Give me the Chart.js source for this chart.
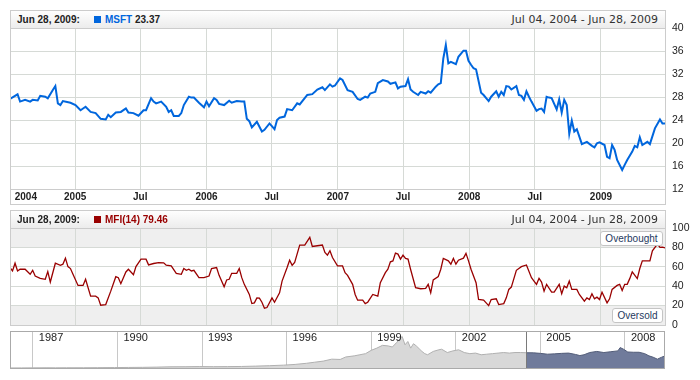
<!DOCTYPE html>
<html><head><meta charset="utf-8">
<script src="https://cdn.jsdelivr.net/npm/chart.js@4.4.0/dist/chart.umd.min.js"></script>
<style>
html,body{margin:0;padding:0;background:#fff;}
body{width:700px;height:380px;position:relative;overflow:hidden;font-family:"Liberation Sans",Arial,sans-serif;}
canvas{position:absolute;left:0;}
.frame{position:absolute;left:10px;width:656px;box-sizing:border-box;border:1px solid #cccccc;pointer-events:none;}
.hdr{position:absolute;left:10px;width:656px;height:19px;box-sizing:border-box;border:1px solid #cccccc;background:linear-gradient(#fefefe,#ececec);}
.hdr span{position:absolute;top:0;line-height:17px;white-space:nowrap;}
.lbl{font-size:10px;font-weight:bold;color:#222;}
.range{right:7px;font-family:"DejaVu Sans",Verdana,sans-serif;font-size:11px;color:#333;}
.hdr .sq{top:5px;width:7px;height:7px;}
.tag{position:absolute;box-sizing:border-box;border:1px solid #c4c4c4;border-radius:3px;background:#fff;font-size:10px;color:#1f3a60;text-align:center;line-height:13px;height:15px;}
</style></head><body>
<canvas id="c1" width="700" height="210" style="top:0;width:700px;height:210px"></canvas>
<canvas id="c2" width="700" height="140" style="top:200px;width:700px;height:140px"></canvas>
<canvas id="c3" width="700" height="60" style="top:320px;width:700px;height:60px"></canvas>

<div class="frame" style="top:10px;height:195px"></div>
<div class="hdr" style="top:10px">
  <span class="lbl date" style="left:6px"></span>
  <span class="sq" style="left:83px;background:#0066dd"></span>
  <span class="lbl" style="left:94px"><span style="position:static;color:#0066dd">MSFT</span> <span id="v1" style="position:static"></span></span>
  <span class="range"></span>
</div>
<div class="frame" style="top:210px;height:116px"></div>
<div class="hdr" style="top:210px">
  <span class="lbl date" style="left:6px"></span>
  <span class="sq" style="left:83px;background:#990000"></span>
  <span class="lbl" style="left:94px;color:#990000">MFI(14) <span id="v2" style="position:static"></span></span>
  <span class="range"></span>
</div>
<div class="tag" style="left:600px;top:231px;width:63px">Overbought</div>
<div class="tag" style="left:612px;top:308px;width:51px">Oversold</div>

<script>
// ---- data (weekly, week index counted from Jul 04, 2004) ----
const msftWeek = [0,3,4,6,8,9,11,12,14,15,17,18,19,20,21,24,26,28,30,32,34,36,38,39,40,42,44,46,47,49,51,53,54,56,57,58,60,62,63,64,65,67,68,69,71,72,73,75,77,78,79,81,82,83,85,87,88,90,92,93,94,95,96,98,100,101,103,105,106,107,109,110,112,114,115,118,120,122,124,125,127,128,129,131,132,134,136,138,139,141,142,143,145,146,148,150,151,153,154,155,157,158,159,160,162,163,165,166,167,169,170,171,172,173,174,175,177,178,180,181,182,183,184,185,187,188,190,191,193,194,195,196,197,198,199,201,202,203,204,205,206,207,209,210,211,212,213,214,215,217,218,219,220,221,222,223,224,225,226,227,229,231,232,233,234,236,237,238,239,240,241,243,244,245,247,248,249,250,251,253,254,256,258,259,260];
const msftClose = [27.65,28.47,27.2,27.5,27.2,27.5,27.4,28.2,28.05,27.77,29.2,29.9,26.9,26.6,27.3,27.0,26.6,25.7,26.3,25.4,25.2,24.2,24.1,24.9,24.5,25.3,25.4,26.0,25.3,25.2,24.75,25.7,25.7,27.8,27.2,26.9,27.2,26.3,25.4,25.7,24.7,24.7,25.2,26.6,28.05,27.9,27.9,27.0,26.2,27.2,26.4,27.8,27.5,26.8,26.6,27.35,27.0,27.3,27.2,27.2,24.2,23.8,22.7,23.7,22.0,22.3,23.4,22.4,24.0,24.4,24.6,25.9,25.7,26.9,26.7,28.35,28.5,29.3,29.7,29.2,30.2,29.8,30.0,31.25,30.95,29.2,28.9,27.65,27.5,28.05,27.9,28.6,28.9,30.4,30.95,30.7,30.3,30.55,29.5,29.8,29.9,31.1,29.3,28.9,28.35,28.9,28.6,29.0,28.75,29.8,30.2,30.4,34.7,37.05,33.85,34.1,33.7,35.0,36.05,36.05,34.3,33.6,33.0,32.8,28.75,28.35,27.3,28.05,29.0,28.05,28.9,28.35,29.9,29.8,29.3,29.9,28.35,28.2,27.5,29.0,28.05,27.2,25.6,25.9,26.0,25.4,28.05,27.9,27.8,25.85,27.6,25.3,27.5,26.6,21.6,23.9,22.0,22.4,21.1,19.8,20.2,19.5,19.25,19.95,20.1,19.65,17.6,17.35,19.65,18.8,17.05,15.3,16.2,17.05,18.5,19.5,19.25,21.0,19.65,20.2,19.8,22.55,24.1,23.4,23.37];

const mfiWeek = [0,1,2,3,4,6,8,9,10,12,14,15,16,18,20,21,22,23,24,25,27,29,30,32,34,35,36,38,40,42,43,44,46,47,49,50,52,54,55,57,59,61,62,64,66,68,69,70,71,72,73,75,77,79,80,82,83,85,86,87,88,90,91,92,93,95,96,97,98,99,100,101,102,104,105,107,108,110,111,112,113,115,117,119,120,122,124,125,126,127,128,130,132,133,134,136,137,138,140,141,142,144,146,147,149,150,151,152,153,154,155,156,157,158,159,161,163,165,166,167,168,170,171,172,174,175,176,177,178,180,181,182,183,185,186,188,190,191,193,194,196,197,198,199,201,203,205,207,208,209,210,211,212,213,215,216,218,219,220,221,222,223,225,226,228,229,230,231,232,233,234,235,237,238,239,241,242,243,244,245,246,247,249,250,251,254,255,257,258,259,260];
const mfiValue = [59.2,55.7,63.7,55.7,57.5,57.5,52.3,56.4,50.5,48.1,47.1,55.0,44.3,63.7,61.6,62.7,68.9,60.2,58.2,52.3,40.8,40.8,47.1,29.7,29.7,28.0,20.4,21.1,34.9,49.8,48.8,42.6,54.7,57.5,51.9,60.2,67.9,67.9,62.0,63.4,64.4,64.1,61.6,60.9,53.3,52.3,58.2,56.4,57.5,55.7,56.4,48.8,48.8,50.5,58.2,59.2,51.2,39.4,46.4,47.1,53.3,53.3,58.2,48.8,41.9,31.5,22.1,22.8,28.0,27.7,23.5,17.3,18.0,28.0,23.5,33.2,45.3,59.2,66.8,61.6,64.4,82.4,82.4,90.4,81.0,81.7,82.4,74.8,72.0,76.5,69.6,60.9,60.9,54.0,51.2,41.9,31.5,25.6,25.6,22.1,23.5,31.5,29.7,43.6,54.0,57.5,65.1,66.1,74.1,73.1,67.9,72.0,68.6,67.9,57.5,38.4,37.4,37.7,41.9,33.2,46.4,50.0,57.5,68.6,66.1,62.7,68.6,62.7,66.8,68.9,73.8,66.1,57.5,43.6,26.3,25.6,20.0,26.3,27.0,21.1,22.1,28.0,36.7,39.1,56.4,60.2,61.9,48.8,45.3,41.9,48.1,44.3,34.9,41.9,33.9,33.9,41.9,32.2,40.1,38.4,45.3,36.7,36.7,31.5,24.6,28.0,26.3,32.2,27.0,28.7,26.3,33.9,22.8,27.0,36.7,40.8,41.9,35.6,41.9,41.9,47.8,54.7,47.8,58.2,66.1,66.1,76.5,83.5,80.0,80.2,79.46];

// x axis ticks (days since Jul 04, 2004)
const xTickDays = [44,181,362,546,727,911,1092,1276,1458,1642];
const xTickLabels = ['2004','2005','Jul','2006','Jul','2007','Jul','2008','Jul','2009'];
const priceTicks = [12,16,20,24,28,32,36,40];
const mfiTicks = [0,20,40,60,80,100];
const mfiZones = {overbought:80, oversold:20};

// long history for the scroller (year, close)
const historyYear = [1986.2,1986.6,1987.0,1987.5,1987.8,1988.2,1988.8,1989.3,1989.9,1990.4,1990.9,1991.4,1991.9,1992.4,1992.9,1993.4,1993.9,1994.4,1994.9,1995.4,1995.9,1996.3,1996.7,1997.0,1997.3,1997.6,1997.9,1998.1,1998.4,1998.6,1998.8,1999.0,1999.2,1999.4,1999.6,1999.75,1999.9,2000.0,2000.1,2000.2,2000.3,2000.4,2000.5,2000.6,2000.7,2000.8,2000.9,2001.0,2001.2,2001.4,2001.5,2001.7,2001.9,2002.1,2002.3,2002.5,2002.7,2002.9,2003.1,2003.3,2003.5,2003.7,2003.9,2004.1,2004.3,2004.505,2004.75,2005.0,2005.25,2005.5,2005.75,2006.0,2006.25,2006.4,2006.55,2006.75,2007.0,2007.25,2007.5,2007.75,2007.83,2007.95,2008.1,2008.3,2008.5,2008.7,2008.85,2009.0,2009.15,2009.3,2009.49];
const historyClose = [0.1,0.15,0.25,0.4,0.3,0.4,0.45,0.6,0.8,1.0,1.2,1.6,2.2,2.3,2.6,2.4,2.5,2.8,3.4,4.2,5.2,6.5,8.5,10.5,12.5,16,15.5,20,22,24,26,32,36,41,40,38,46,52,57,42,48,36,44,40,35,30,26,24,30,33,34,28,31,33,28,26,27,24,25,26,27,28,27,28,28,27.6,27.5,26.5,25,25.6,26.5,27,24.5,22.5,24,28,30,28,29.5,31,37,34,29,28.5,28.5,26,22,19.5,16,19.5,23.4];
const scrollerTicks = [1987,1990,1993,1996,1999,2002,2005,2008];
const selectionStart = 2004.505;

const GRID = '#d6dad6';
Chart.defaults.font.family = '"Liberation Sans", Arial, sans-serif';
Chart.defaults.color = '#222';

// header texts from data
const MONTHS=['Jan','Feb','Mar','Apr','May','Jun','Jul','Aug','Sep','Oct','Nov','Dec'];
const start = Date.UTC(2004,6,4);
const dayMs = 86400000;
function fmt(t){const d=new Date(t);return MONTHS[d.getUTCMonth()]+' '+String(d.getUTCDate()).padStart(2,'0')+', '+d.getUTCFullYear();}
const lastWeek = msftWeek[msftWeek.length-1];
const endT = start + lastWeek*7*dayMs;
document.querySelectorAll('.date').forEach(e=>e.textContent=fmt(endT)+':');
document.querySelectorAll('.range').forEach(e=>e.textContent=fmt(start)+' - '+fmt(endT));
document.getElementById('v1').textContent = msftClose[msftClose.length-1].toFixed(2);
document.getElementById('v2').textContent = mfiValue[mfiValue.length-1].toFixed(2);

const xMax = lastWeek*7;
const common = {responsive:false, animation:false, events:[],
  plugins:{legend:{display:false}, tooltip:{enabled:false}}};

// ---- price chart ----
new Chart(document.getElementById('c1'), {
  type:'line',
  data:{datasets:[{data: msftWeek.map((w,i)=>({x:w*7, y:msftClose[i]})),
    borderColor:'#0066dd', borderWidth:2, pointRadius:0, tension:0, fill:false}]},
  options:Object.assign({}, common, {
    layout:{padding:{left:10, top:28, right:0, bottom:6}},
    scales:{
      x:{type:'linear', min:0, max:xMax,
        afterBuildTicks:a=>{a.ticks = xTickDays.map(v=>({value:v}));},
        afterFit:a=>{a.height=15;},
        grid:{color:c=> c.index===0 ? 'rgba(0,0,0,0)' : GRID, drawTicks:false},
        border:{display:true, color:'#cccccc'},
        ticks:{autoSkip:false, maxRotation:0, padding:2, color:'#222',
          font:{size:10, weight:'bold'}, callback:(v,i)=>xTickLabels[i]}},
      y:{position:'right', min:priceTicks[0], max:priceTicks[priceTicks.length-1],
        afterBuildTicks:a=>{a.ticks = priceTicks.map(v=>({value:v}));},
        afterFit:a=>{a.width=35;},
        grid:{color:GRID, drawTicks:false}, border:{display:false},
        ticks:{padding:7, font:{size:10.5}, color:'#222'}}
    }})
});

// ---- MFI chart ----
const bands = {id:'bands', beforeDraw(chart){
  const {ctx, chartArea:a, scales:{y}} = chart;
  ctx.save(); ctx.fillStyle='#efefef';
  const top=y.getPixelForValue(y.max), ob=y.getPixelForValue(mfiZones.overbought),
        os=y.getPixelForValue(mfiZones.oversold), bot=y.getPixelForValue(y.min);
  ctx.fillRect(a.left, top, a.right-a.left, ob-top);
  ctx.fillRect(a.left, os, a.right-a.left, bot-os);
  ctx.restore();
}};
new Chart(document.getElementById('c2'), {
  type:'line',
  data:{datasets:[{data: mfiWeek.map((w,i)=>({x:w*7, y:mfiValue[i]})),
    borderColor:'#990000', borderWidth:1.3, pointRadius:0, tension:0, fill:false}]},
  options:Object.assign({}, common, {
    layout:{padding:{left:10, top:28, right:0, bottom:15}},
    scales:{
      x:{type:'linear', min:0, max:xMax,
        afterBuildTicks:a=>{a.ticks = xTickDays.slice(1).map(v=>({value:v}));},
        afterFit:a=>{a.height=0;},
        grid:{color:GRID, drawTicks:false}, border:{display:false},
        ticks:{display:false}},
      y:{position:'right', min:mfiTicks[0], max:mfiTicks[mfiTicks.length-1],
        afterBuildTicks:a=>{a.ticks = mfiTicks.map(v=>({value:v}));},
        afterFit:a=>{a.width=35;},
        grid:{color:GRID, drawTicks:false}, border:{display:false},
        ticks:{padding:7, font:{size:10.5}, color:'#222'}}
    }}),
  plugins:[bands]
});

// ---- scroller ----
const histPts = historyYear.map((x,i)=>({x, y:historyClose[i]}));
const scrollLabels = {id:'scrollLabels', afterDatasetsDraw(chart){
  const {ctx, chartArea:a, scales:{x}} = chart;
  ctx.save();
  // selection edge
  const sx = Math.round(x.getPixelForValue(selectionStart))+0.5;
  ctx.strokeStyle='#7a7a7a'; ctx.lineWidth=1;
  ctx.beginPath(); ctx.moveTo(sx,a.top); ctx.lineTo(sx,a.bottom); ctx.stroke();
  // frame
  ctx.strokeStyle='#aaaaaa';
  ctx.strokeRect(a.left+0.5, a.top+0.5, a.right-a.left-1, a.bottom-a.top);
  ctx.fillStyle='#222'; ctx.font='11px "Liberation Sans", Arial, sans-serif';
  ctx.textBaseline='middle'; ctx.textAlign='left';
  scrollerTicks.forEach(yr=>{ ctx.fillText(String(yr), x.getPixelForValue(yr)+6, a.top+7); });
  ctx.restore();
}};
new Chart(document.getElementById('c3'), {
  type:'line',
  data:{datasets:[
    {data: histPts.filter(p=>p.x>=selectionStart), borderColor:'#525c78', borderWidth:1,
      backgroundColor:'#707b9b', fill:'origin', pointRadius:0, tension:0},
    {data: histPts.filter(p=>p.x<=selectionStart), borderColor:'#b0b0b0', borderWidth:1,
      backgroundColor:'#d8d8d8', fill:'origin', pointRadius:0, tension:0}
  ]},
  options:Object.assign({}, common, {
    layout:{padding:{left:10, top:11, right:35, bottom:12}},
    scales:{
      x:{type:'linear', min:1986.19, max:2009.42, display:true,
        afterBuildTicks:a=>{a.ticks = scrollerTicks.map(v=>({value:v}));},
        afterFit:a=>{a.height=0;},
        grid:{color:'#c8c8c8', drawTicks:false}, border:{display:false}, ticks:{display:false}},
      y:{display:false, min:0, max:67}
    }}),
  plugins:[scrollLabels]
});
</script>
</body></html>
